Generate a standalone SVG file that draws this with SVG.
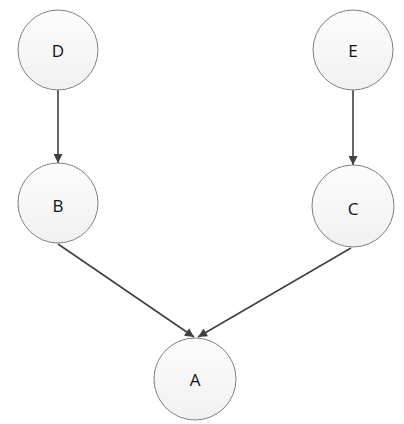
<svg xmlns="http://www.w3.org/2000/svg" width="404" height="424" viewBox="0 0 404 424">
<style>
.n{fill:url(#g);stroke:#808080;stroke-width:1}
.t{font-family:"Open Sans","Liberation Sans",sans-serif;font-size:17px;fill:#111;text-anchor:middle;dominant-baseline:central}
.e{stroke:#404040;stroke-width:1.6;fill:none;marker-end:url(#a)}
</style>
<defs>
<linearGradient id="g" x1="0" y1="0" x2="0" y2="1"><stop offset="0" stop-color="#fcfcfc"/><stop offset="1" stop-color="#f1f1f1"/></linearGradient>
<marker id="a" viewBox="0 0 10 10" refX="10" refY="5" markerWidth="10" markerHeight="9" markerUnits="userSpaceOnUse" orient="auto"><path d="M0,0 L10,5 L0,10 Z" fill="#404040"/></marker>
</defs>
<rect width="404" height="424" fill="#fff"/>
<g id="edges">
<line class="e" x1="58" y1="89" x2="58" y2="163"/>
<line class="e" x1="353" y1="90" x2="353" y2="165"/>
<line class="e" x1="58" y1="244" x2="194" y2="337"/>
<line class="e" x1="351" y1="248" x2="198" y2="337"/>
</g>
<g id="D"><circle class="n" cx="58" cy="50" r="40"/><text class="t" x="58" y="50">D</text></g>
<g id="E"><circle class="n" cx="353" cy="50" r="40"/><text class="t" x="353" y="50">E</text></g>
<g id="B"><circle class="n" cx="58" cy="203" r="40"/><text class="t" x="58" y="205">B</text></g>
<g id="C"><circle class="n" cx="353" cy="206" r="41"/><text class="t" x="353" y="208">C</text></g>
<g id="A"><circle class="n" cx="195" cy="379" r="41"/><text class="t" x="195" y="379">A</text></g>
</svg>
